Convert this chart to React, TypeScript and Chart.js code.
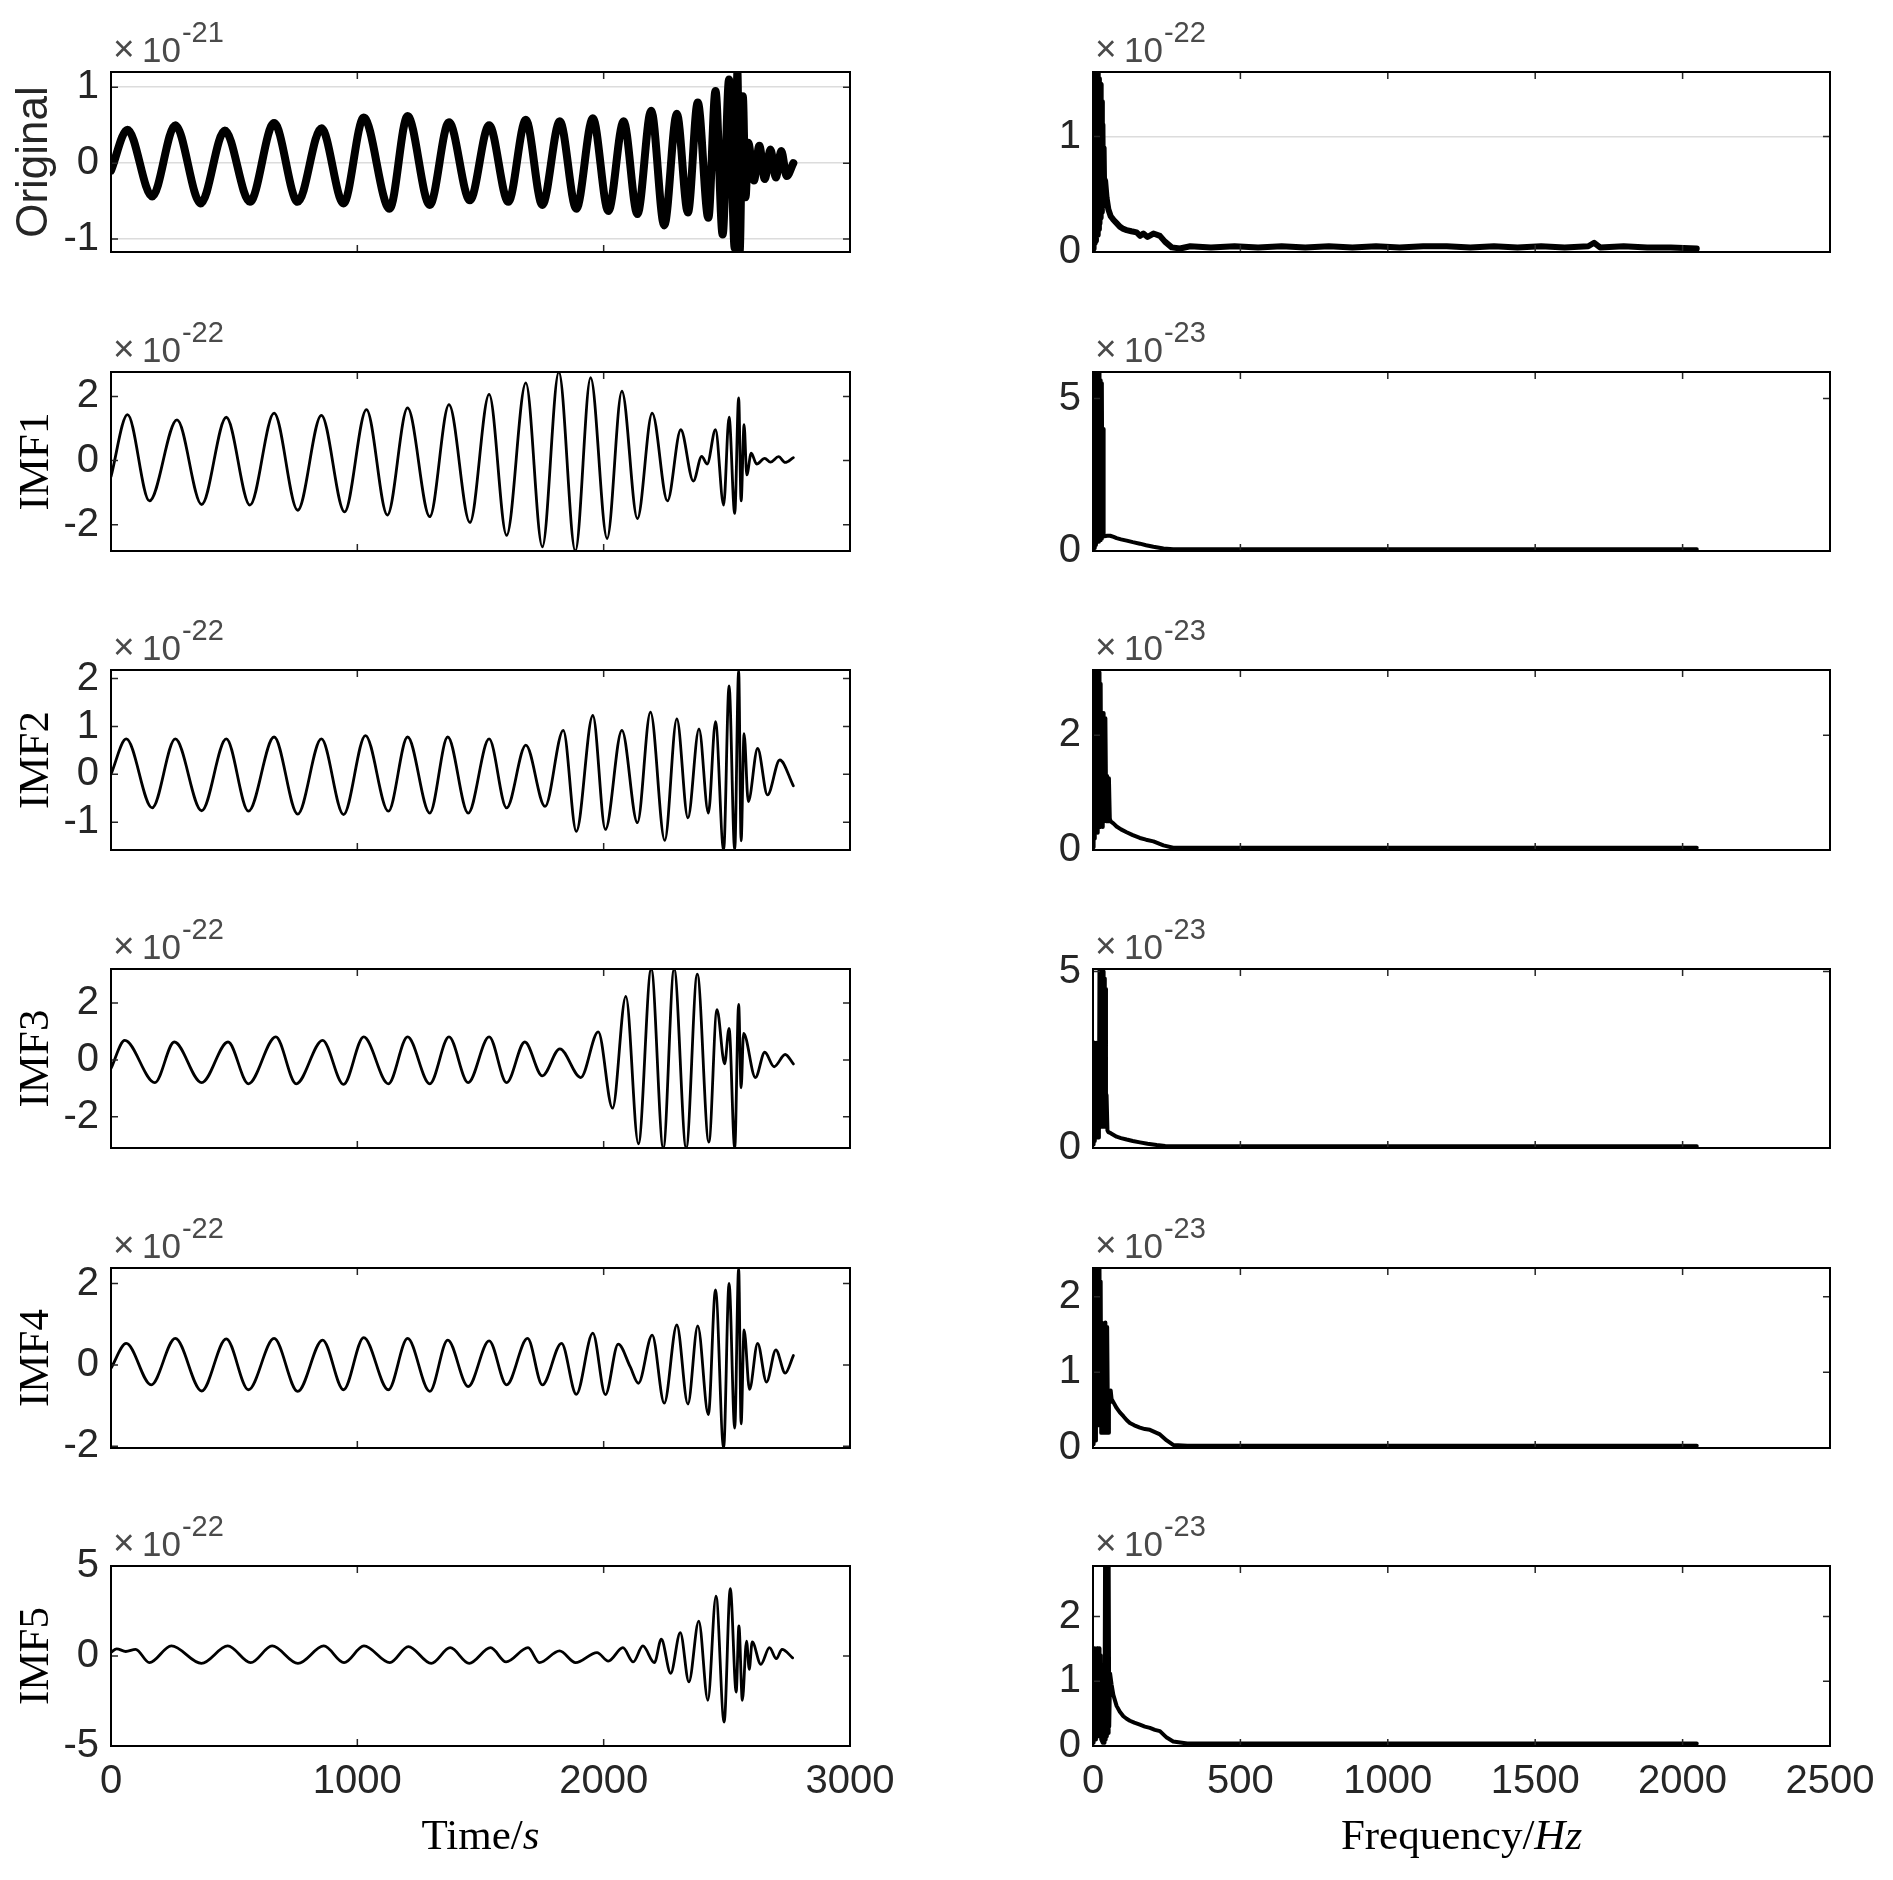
import { useEffect, useRef } from "react";
import { Chart, registerables } from "chart.js";
Chart.register(...registerables);

// ---------------- data ----------------
const timeTicks = [0, 1000, 2000, 3000];
const freqTicks = [0, 500, 1000, 1500, 2000, 2500];
const rowLabels = ["Original", "IMF1", "IMF2", "IMF3", "IMF4", "IMF5"];
const timeExponents = ["-21", "-22", "-22", "-22", "-22", "-22"];
const freqExponents = ["-22", "-23", "-23", "-23", "-23", "-23"];
const timeYTicks = [[-1, 0, 1], [-2, 0, 2], [-1, 0, 1, 2], [-2, 0, 2], [-2, 0, 2], [-5, 0, 5]];
const freqYTicks = [[0, 1], [0, 5], [0, 2], [0, 5], [0, 1, 2], [0, 1, 2]];
const timeYMin = [-1.17, -2.82, -1.58, -3.1, -2.04, -5];
const timeYMax = [1.2, 2.76, 2.18, 3.2, 2.38, 5];
const freqYMax = [1.56, 5.87, 3.14, 5.07, 2.38, 2.78];

// time-domain signals (time in s, amplitude in units of the exponent)
const originalTime = [0, 67, 167, 261, 364, 462, 564, 662, 758, 854, 944, 1026, 1131, 1204, 1294, 1372, 1457, 1535, 1613, 1684, 1751, 1822, 1889, 1956, 2019, 2081, 2137, 2193, 2246, 2297, 2342, 2382, 2425, 2454, 2483, 2509, 2532, 2543, 2552, 2565, 2576, 2587, 2610, 2632, 2654, 2677, 2699, 2721, 2743, 2770];
const originalValue = [-0.1, 0.44, -0.44, 0.5, -0.53, 0.43, -0.51, 0.53, -0.51, 0.46, -0.53, 0.6, -0.6, 0.62, -0.55, 0.54, -0.49, 0.5, -0.51, 0.57, -0.55, 0.55, -0.6, 0.59, -0.63, 0.55, -0.67, 0.69, -0.82, 0.65, -0.65, 0.8, -0.72, 0.95, -0.94, 1.1, -1.12, 1.2, -1.165, 0.88, -0.45, 0.27, -0.23, 0.23, -0.21, 0.18, -0.19, 0.16, -0.17, 0.0];

const imf1Time = [0, 67, 156, 268, 368, 468, 564, 662, 758, 854, 948, 1037, 1122, 1204, 1294, 1372, 1457, 1535, 1606, 1684, 1751, 1818, 1885, 1947, 2014, 2074, 2137, 2197, 2259, 2313, 2364, 2398, 2420, 2454, 2487, 2509, 2532, 2548, 2558, 2570, 2581, 2599, 2621, 2654, 2677, 2710, 2737, 2770];
const imf1Value = [-0.5, 1.43, -1.26, 1.27, -1.37, 1.35, -1.39, 1.48, -1.55, 1.41, -1.6, 1.59, -1.7, 1.64, -1.75, 1.74, -1.93, 2.06, -2.33, 2.42, -2.69, 2.76, -2.82, 2.58, -2.43, 2.16, -1.81, 1.48, -1.26, 0.96, -0.64, 0.13, -0.11, 0.96, -1.39, 1.35, -1.65, 1.95, -1.26, 1.12, -0.45, 0.23, -0.11, 0.07, -0.05, 0.12, -0.06, 0.09];

const imf2Time = [0, 62, 167, 261, 368, 468, 558, 662, 758, 854, 944, 1033, 1126, 1204, 1294, 1367, 1450, 1535, 1606, 1684, 1762, 1836, 1889, 1956, 2007, 2074, 2137, 2190, 2248, 2297, 2342, 2387, 2425, 2454, 2487, 2509, 2532, 2548, 2558, 2570, 2587, 2625, 2665, 2715, 2770];
const imf2Value = [0.0, 0.74, -0.7, 0.74, -0.76, 0.74, -0.77, 0.78, -0.83, 0.74, -0.84, 0.81, -0.77, 0.78, -0.81, 0.78, -0.81, 0.74, -0.7, 0.61, -0.67, 0.92, -1.19, 1.23, -1.15, 0.92, -1.01, 1.3, -1.38, 1.16, -0.91, 0.95, -0.81, 1.1, -1.58, 1.85, -1.58, 2.18, -1.39, 0.85, -0.57, 0.54, -0.43, 0.3, -0.24];

const imf3Time = [0, 56, 178, 257, 368, 475, 558, 669, 752, 859, 944, 1026, 1126, 1204, 1294, 1372, 1450, 1535, 1606, 1680, 1751, 1822, 1907, 1978, 2036, 2090, 2141, 2193, 2242, 2286, 2335, 2380, 2427, 2460, 2491, 2509, 2532, 2548, 2558, 2568, 2616, 2654, 2692, 2737, 2770];
const imf3Value = [-0.3, 0.69, -0.8, 0.63, -0.8, 0.63, -0.84, 0.81, -0.84, 0.69, -0.86, 0.81, -0.84, 0.81, -0.84, 0.81, -0.8, 0.81, -0.8, 0.63, -0.56, 0.39, -0.62, 0.99, -1.7, 2.24, -2.95, 3.2, -3.1, 3.2, -3.1, 3.02, -2.89, 1.77, -0.14, 1.11, -3.1, 1.95, -0.98, 0.93, -0.62, 0.27, -0.24, 0.19, -0.14];

const imf4Time = [0, 62, 163, 261, 368, 468, 558, 662, 758, 859, 944, 1026, 1126, 1204, 1294, 1367, 1450, 1535, 1606, 1691, 1751, 1829, 1889, 1956, 2007, 2059, 2108, 2141, 2197, 2246, 2297, 2342, 2382, 2425, 2454, 2487, 2509, 2532, 2548, 2558, 2570, 2592, 2625, 2661, 2699, 2737, 2770];
const imf4Value = [-0.08, 0.53, -0.49, 0.65, -0.64, 0.64, -0.61, 0.65, -0.65, 0.61, -0.61, 0.67, -0.61, 0.65, -0.65, 0.61, -0.53, 0.59, -0.49, 0.65, -0.49, 0.53, -0.72, 0.78, -0.73, 0.51, -0.05, -0.45, 0.73, -0.94, 0.98, -0.96, 0.96, -1.22, 1.84, -2.04, 2.0, -1.55, 2.38, -1.45, 0.86, -0.6, 0.53, -0.42, 0.37, -0.2, 0.23];

const imf5Time = [0, 23, 60, 100, 156, 245, 367, 474, 567, 654, 759, 864, 946, 1027, 1132, 1207, 1300, 1377, 1454, 1541, 1604, 1693, 1739, 1821, 1886, 1973, 2019, 2078, 2120, 2159, 2206, 2234, 2272, 2311, 2346, 2386, 2423, 2456, 2489, 2514, 2538, 2549, 2563, 2580, 2591, 2603, 2638, 2673, 2701, 2724, 2767];
const imf5Value = [0.2, 0.4, 0.25, 0.37, -0.37, 0.56, -0.41, 0.56, -0.37, 0.56, -0.41, 0.56, -0.37, 0.56, -0.37, 0.52, -0.41, 0.46, -0.41, 0.46, -0.33, 0.46, -0.37, 0.28, -0.37, 0.19, -0.28, 0.46, -0.33, 0.56, -0.37, 0.93, -0.96, 1.3, -1.44, 1.94, -2.46, 3.33, -3.67, 3.74, -2.0, 1.67, -2.46, 0.83, -0.74, 0.78, -0.46, 0.46, -0.15, 0.37, -0.1];

// spectra (frequency in Hz, amplitude in units of the exponent)
const originalFreq = [0, 2, 4, 6, 8, 10, 12, 14, 16, 18, 20, 22, 24, 26, 28, 30, 32, 34, 36, 38, 41, 46, 52, 60, 69, 80, 91, 103, 114, 130, 148, 160, 171, 185, 205, 227, 244, 267, 295, 330, 400, 480, 560, 640, 720, 800, 880, 960, 1040, 1120, 1200, 1280, 1360, 1440, 1520, 1600, 1680, 1700, 1720, 1800, 1880, 1960, 2048];
const originalAmp = [0.03, 0.1, 0.08, 0.2, 1.0, 0.1, 1.56, 0.15, 1.56, 0.2, 1.5, 0.25, 1.45, 0.3, 1.3, 0.35, 1.1, 0.4, 0.9, 0.5, 0.62, 0.47, 0.37, 0.31, 0.28, 0.25, 0.22, 0.2, 0.19, 0.18, 0.17, 0.14, 0.16, 0.13, 0.16, 0.14, 0.09, 0.04, 0.03, 0.05, 0.04, 0.05, 0.04, 0.05, 0.04, 0.05, 0.04, 0.05, 0.04, 0.05, 0.05, 0.04, 0.05, 0.04, 0.05, 0.04, 0.05, 0.08, 0.04, 0.05, 0.04, 0.04, 0.03];

const imf1Freq = [0, 2, 4, 6, 8, 10, 12, 14, 16, 18, 20, 22, 24, 26, 28, 30, 32, 34, 36, 38, 48, 58, 70, 80, 95, 114, 135, 159, 180, 205, 239, 272, 320, 400, 600, 800, 1000, 1200, 1400, 1600, 1800, 2048];
const imf1Amp = [0.05, 0.3, 0.1, 5.87, 0.2, 5.8, 0.3, 5.87, 0.3, 5.7, 0.3, 5.87, 0.35, 5.6, 0.4, 5.5, 0.45, 4.0, 0.5, 0.48, 0.5, 0.5, 0.46, 0.42, 0.38, 0.34, 0.29, 0.24, 0.19, 0.14, 0.08, 0.06, 0.06, 0.06, 0.06, 0.06, 0.06, 0.06, 0.06, 0.06, 0.06, 0.06];

const imf2Freq = [0, 2, 4, 6, 8, 10, 12, 14, 16, 18, 20, 22, 24, 26, 28, 30, 33, 36, 39, 42, 45, 48, 51, 54, 57, 60, 70, 80, 95, 114, 135, 159, 180, 205, 239, 272, 320, 400, 600, 800, 1000, 1200, 1400, 1600, 1800, 2048];
const imf2Amp = [0.05, 0.3, 0.2, 3.14, 0.3, 3.1, 0.35, 3.14, 0.3, 3.0, 0.4, 3.1, 0.4, 2.9, 0.45, 2.39, 0.4, 2.39, 0.5, 2.3, 0.5, 1.29, 0.5, 1.25, 0.55, 0.5, 0.46, 0.41, 0.36, 0.31, 0.26, 0.21, 0.18, 0.15, 0.08, 0.04, 0.04, 0.04, 0.04, 0.04, 0.04, 0.04, 0.04, 0.04, 0.04, 0.04];

const imf3Freq = [0, 2, 4, 6, 8, 10, 12, 14, 16, 18, 20, 22, 24, 26, 28, 30, 32, 34, 36, 38, 40, 42, 44, 46, 49, 52, 60, 70, 80, 95, 114, 135, 159, 185, 216, 245, 272, 320, 400, 600, 800, 1000, 1200, 1400, 1600, 1800, 2048];
const imf3Amp = [0.1, 0.3, 2.98, 0.2, 2.9, 0.3, 2.98, 0.3, 2.5, 0.3, 0.5, 5.07, 0.6, 5.07, 0.6, 5.07, 0.6, 5.0, 0.6, 4.8, 0.6, 4.5, 0.6, 1.5, 0.5, 0.45, 0.42, 0.37, 0.32, 0.28, 0.24, 0.2, 0.16, 0.12, 0.085, 0.06, 0.05, 0.05, 0.05, 0.05, 0.05, 0.05, 0.05, 0.05, 0.05, 0.05, 0.05];

const imf4Freq = [0, 2, 4, 6, 8, 10, 12, 14, 16, 18, 20, 22, 24, 26, 28, 30, 33, 36, 39, 42, 45, 48, 51, 54, 57, 60, 63, 70, 80, 91, 103, 114, 125, 140, 159, 176, 193, 210, 227, 250, 272, 320, 400, 600, 800, 1000, 1200, 1400, 1600, 1800, 2048];
const imf4Amp = [0.05, 0.15, 0.1, 2.38, 0.1, 2.35, 0.3, 2.38, 0.3, 2.3, 0.3, 2.38, 0.3, 2.2, 0.2, 1.66, 0.2, 1.6, 0.2, 1.66, 0.2, 1.6, 0.2, 0.76, 0.6, 0.76, 0.65, 0.6, 0.53, 0.47, 0.42, 0.37, 0.33, 0.3, 0.27, 0.25, 0.24, 0.21, 0.18, 0.1, 0.04, 0.03, 0.03, 0.03, 0.03, 0.03, 0.03, 0.03, 0.03, 0.03, 0.03];

const imf5Freq = [0, 2, 4, 6, 8, 10, 12, 14, 16, 18, 20, 22, 24, 26, 28, 30, 33, 36, 39, 41, 43, 45, 47, 49, 51, 53, 55, 58, 63, 69, 80, 91, 103, 114, 125, 140, 159, 176, 193, 210, 227, 250, 272, 320, 400, 600, 800, 1000, 1200, 1400, 1600, 1800, 2048];
const imf5Amp = [0.05, 0.2, 0.1, 1.51, 0.1, 1.5, 0.15, 1.51, 0.15, 1.45, 0.15, 1.51, 0.15, 1.4, 0.1, 0.1, 0.05, 0.1, 0.05, 3.0, 0.1, 3.0, 0.15, 3.0, 0.2, 3.0, 0.3, 1.12, 0.95, 0.79, 0.62, 0.53, 0.46, 0.42, 0.39, 0.36, 0.33, 0.3, 0.28, 0.25, 0.23, 0.13, 0.07, 0.04, 0.04, 0.04, 0.04, 0.04, 0.04, 0.04, 0.04, 0.04, 0.04];

const timeSeries = [
  [originalTime, originalValue],
  [imf1Time, imf1Value],
  [imf2Time, imf2Value],
  [imf3Time, imf3Value],
  [imf4Time, imf4Value],
  [imf5Time, imf5Value],
];
const spectra = [
  [originalFreq, originalAmp],
  [imf1Freq, imf1Amp],
  [imf2Freq, imf2Amp],
  [imf3Freq, imf3Amp],
  [imf4Freq, imf4Amp],
  [imf5Freq, imf5Amp],
];

// ---------------- layout & style ----------------
const SANS = '"Liberation Sans", Arial, Helvetica, sans-serif';
const SERIF = '"Liberation Serif", "Times New Roman", Times, serif';
const TICK_COLOR = "#262626";
const COLS = [
  { plotL: 111, plotR: 850, canvasL: 0, canvasW: 960 },
  { plotL: 1093, plotR: 1830, canvasL: 960, canvasW: 933 },
];
const ROW_TOP = [72, 372, 670, 969, 1268, 1566];
const ROW_BOTTOM = [252, 551, 850, 1148, 1448, 1746];
const TOP_SPACE = 72;

type PanelCfg = {
  key: string;
  col: number;
  row: number;
  xs: number[];
  ys: number[];
  xMax: number;
  xTicks: number[];
  yMin: number;
  yMax: number;
  yTicks: number[];
  exponent: string;
  ylabel: string | null;
  ylabelFont: string;
  grid: boolean;
  lineWidth: number;
  smooth: boolean;
  xlabel: [string, string] | null;
};

const panels: PanelCfg[] = [];
for (let r = 0; r < 6; r++) {
  panels.push({
    key: "t" + r,
    col: 0,
    row: r,
    xs: timeSeries[r][0],
    ys: timeSeries[r][1],
    xMax: 3000,
    xTicks: timeTicks,
    yMin: timeYMin[r],
    yMax: timeYMax[r],
    yTicks: timeYTicks[r],
    exponent: timeExponents[r],
    ylabel: rowLabels[r],
    ylabelFont: r === 0 ? `44px ${SANS}` : `43px ${SERIF}`,
    grid: r === 0,
    lineWidth: r === 0 ? 8 : 2.8,
    smooth: true,
    xlabel: r === 5 ? ["Time/", "s"] : null,
  });
  panels.push({
    key: "f" + r,
    col: 1,
    row: r,
    xs: spectra[r][0],
    ys: spectra[r][1],
    xMax: 2500,
    xTicks: freqTicks,
    yMin: 0,
    yMax: freqYMax[r],
    yTicks: freqYTicks[r],
    exponent: freqExponents[r],
    ylabel: null,
    ylabelFont: `44px ${SANS}`,
    grid: r === 0,
    lineWidth: r === 0 ? 6 : 4,
    smooth: false,
    xlabel: r === 5 ? ["Frequency/", "Hz"] : null,
  });
}

const matlabPlugin = {
  id: "matlab",
  afterDatasetsDraw(chart: any) {
    const { ctx, chartArea: a, scales } = chart;
    ctx.save();
    // inward tick marks
    ctx.strokeStyle = TICK_COLOR;
    ctx.lineWidth = 1.5;
    const tl = 7;
    ctx.beginPath();
    for (const t of scales.y.ticks) {
      const py = scales.y.getPixelForValue(t.value);
      ctx.moveTo(a.left, py);
      ctx.lineTo(a.left + tl, py);
      ctx.moveTo(a.right, py);
      ctx.lineTo(a.right - tl, py);
    }
    for (const t of scales.x.ticks) {
      const px = scales.x.getPixelForValue(t.value);
      ctx.moveTo(px, a.bottom);
      ctx.lineTo(px, a.bottom - tl);
      ctx.moveTo(px, a.top);
      ctx.lineTo(px, a.top + tl);
    }
    ctx.stroke();
    // box
    ctx.strokeStyle = "#000";
    ctx.lineWidth = 2;
    ctx.strokeRect(a.left, a.top, a.right - a.left, a.bottom - a.top);
    ctx.restore();
  },
  afterDraw(chart: any, _args: any, opts: any) {
    const { ctx, chartArea: a } = chart;
    ctx.save();
    // exponent label  × 10^-NN
    ctx.fillStyle = "#4a4a4a";
    ctx.textAlign = "left";
    ctx.textBaseline = "alphabetic";
    const by = a.top - 10;
    ctx.font = `37px ${SANS}`;
    ctx.fillText("\u00d7", a.left + 2, by - 1);
    ctx.font = `35px ${SANS}`;
    const tenX = a.left + 31;
    ctx.fillText("10", tenX, by);
    const w = ctx.measureText("10").width;
    ctx.font = `29px ${SANS}`;
    ctx.fillText(opts.exponent, tenX + w + 1, by - 20);
    // y label
    if (opts.ylabel) {
      ctx.save();
      ctx.translate(opts.ylabelX, (a.top + a.bottom) / 2);
      ctx.rotate(-Math.PI / 2);
      ctx.textAlign = "center";
      ctx.textBaseline = "middle";
      ctx.fillStyle = opts.ylabelColor;
      ctx.font = opts.ylabelFont;
      ctx.fillText(opts.ylabel, 0, 0);
      ctx.restore();
    }
    // x label (normal + italic part)
    if (opts.xlabel) {
      const [p1, p2] = opts.xlabel;
      const f1 = `43px ${SERIF}`;
      const f2 = `italic 43px ${SERIF}`;
      ctx.font = f1;
      const w1 = ctx.measureText(p1).width;
      ctx.font = f2;
      const w2 = ctx.measureText(p2).width;
      const cx = (a.left + a.right) / 2;
      const x0 = cx - (w1 + w2) / 2;
      const y0 = opts.xlabelBaseline;
      ctx.fillStyle = "#000";
      ctx.textAlign = "left";
      ctx.textBaseline = "alphabetic";
      ctx.font = f1;
      ctx.fillText(p1, x0, y0);
      ctx.font = f2;
      ctx.fillText(p2, x0 + w1, y0);
    }
    ctx.restore();
  },
};

function PanelChart({ p }: { p: PanelCfg }) {
  const ref = useRef<HTMLCanvasElement | null>(null);
  const col = COLS[p.col];
  const canvasTop = p.row === 0 ? 0 : ROW_TOP[p.row] - TOP_SPACE;
  const canvasBottom = p.row === 5 ? 1880 : ROW_TOP[p.row + 1] - TOP_SPACE;
  const h = canvasBottom - canvasTop;
  const w = col.canvasW;

  useEffect(() => {
    const canvas = ref.current;
    if (!canvas) return;
    const padTop = ROW_TOP[p.row] - canvasTop;
    const padRight = w - (col.plotR - col.canvasL);
    const yAxisW = col.plotL - col.canvasL;
    const xAxisH = canvasBottom - ROW_BOTTOM[p.row];
    const chart = new Chart(canvas, {
      type: "line",
      data: {
        datasets: [
          {
            data: p.xs.map((x, i) => ({ x, y: p.ys[i] })),
            borderColor: "#000",
            borderWidth: p.lineWidth,
            pointRadius: 0,
            fill: false,
            tension: 0,
            cubicInterpolationMode: p.smooth ? "monotone" : "default",
            borderJoinStyle: "round",
            borderCapStyle: "round",
          } as any,
        ],
      },
      options: {
        responsive: false,
        maintainAspectRatio: false,
        animation: false,
        devicePixelRatio: 1,
        events: [],
        layout: { padding: { top: padTop, right: padRight, left: 0, bottom: 0 } },
        plugins: {
          legend: { display: false },
          tooltip: { enabled: false },
          matlab: {
            exponent: p.exponent,
            ylabel: p.ylabel,
            ylabelX: p.row === 0 ? 35 : 37,
            ylabelFont: p.ylabelFont,
            ylabelColor: p.row === 0 ? "#262626" : "#000",
            xlabel: p.xlabel,
            xlabelBaseline: 1849 - canvasTop,
          },
        } as any,
        scales: {
          x: {
            type: "linear",
            min: 0,
            max: p.xMax,
            afterBuildTicks: (s: any) => {
              s.ticks = p.xTicks.map((v) => ({ value: v }));
            },
            afterFit: (s: any) => {
              s.height = xAxisH;
            },
            grid: { display: false, drawTicks: false },
            border: { display: false },
            ticks: {
              display: p.row === 5,
              autoSkip: false,
              maxRotation: 0,
              minRotation: 0,
              padding: 12,
              color: TICK_COLOR,
              font: { family: SANS, size: 40 },
              callback: (v: any) => String(v),
            },
          },
          y: {
            type: "linear",
            min: p.yMin,
            max: p.yMax,
            afterBuildTicks: (s: any) => {
              s.ticks = p.yTicks.map((v) => ({ value: v }));
            },
            afterFit: (s: any) => {
              s.width = yAxisW;
            },
            grid: {
              display: p.grid,
              drawTicks: false,
              color: "#dcdcdc",
              lineWidth: 1.5,
            },
            border: { display: false },
            ticks: {
              autoSkip: false,
              padding: 12,
              color: TICK_COLOR,
              font: { family: SANS, size: 40 },
              callback: (v: any) => String(v),
            },
          },
        } as any,
      },
      plugins: [matlabPlugin as any],
    });
    return () => chart.destroy();
  }, []);

  return (
    <canvas
      ref={ref}
      width={w}
      height={h}
      style={{ position: "absolute", left: col.canvasL, top: canvasTop, width: w, height: h }}
    />
  );
}

export default function App() {
  return (
    <div
      style={{
        position: "absolute",
        left: 0,
        top: 0,
        width: 1893,
        height: 1880,
        background: "#fff",
        overflow: "hidden",
      }}
    >
      {panels.map((p) => (
        <PanelChart key={p.key} p={p} />
      ))}
    </div>
  );
}
